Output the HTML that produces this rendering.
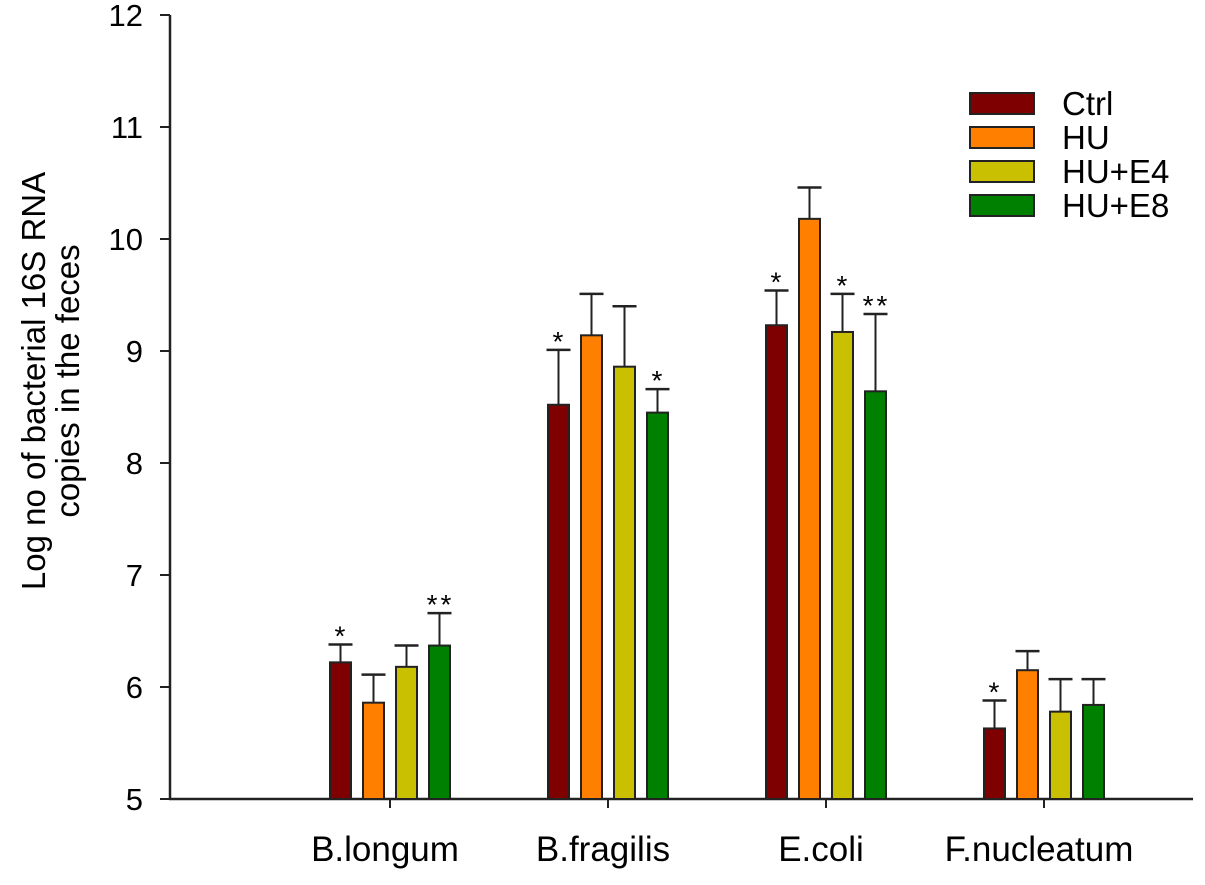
<!DOCTYPE html>
<html><head><meta charset="utf-8"><style>
body{margin:0;background:#fff;}
svg text{font-family:"Liberation Sans",Arial,sans-serif;fill:#000;}
</style></head><body>
<svg id="chart" width="1205" height="880" xmlns="http://www.w3.org/2000/svg"></svg>
<script>
const categories=["B.longum","B.fragilis","E.coli","F.nucleatum"];
const seriesNames=["Ctrl","HU","HU+E4","HU+E8"];
const seriesColors=["#7f0000","#ff8000","#c8c000","#008000"];
const ctrlVals=[6.22,8.52,9.23,5.63];
const huVals=[5.86,9.14,10.18,6.15];
const e4Vals=[6.18,8.86,9.17,5.78];
const e8Vals=[6.37,8.45,8.64,5.84];
const ctrlErr=[0.16,0.49,0.31,0.25];
const huErr=[0.25,0.37,0.28,0.17];
const e4Err=[0.19,0.54,0.34,0.29];
const e8Err=[0.29,0.21,0.69,0.23];
const ctrlStars=["*","*","*","*"];
const huStars=["","","",""];
const e4Stars=["","","*",""];
const e8Stars=["**","*","**",""];
const yTicks=[5,6,7,8,9,10,11,12];

const svg=document.getElementById('chart');
const NS="http://www.w3.org/2000/svg";
function mk(t,a,txt){const e=document.createElementNS(NS,t);for(const k in a)e.setAttribute(k,a[k]);if(txt!==undefined)e.textContent=txt;svg.appendChild(e);return e;}
const y0=799,yUnit=112,yMin=5;
function yS(v){return y0-(v-yMin)*yUnit;}
const catX0=390,catStep=218,barPitch=33,barW=21;
function xS(i){return catX0+i*catStep;}

let e=mk('line',{x1:170,y1:15,x2:170,y2:800,stroke:'#222','stroke-width':2.5});


e=mk('line',{x1:169,y1:799,x2:1193,y2:799,stroke:'#222','stroke-width':2.5});


yTicks.forEach(v=>{
  const t=mk('line',{x1:160,y1:yS(v),x2:170,y2:yS(v),stroke:'#222','stroke-width':2});
  
  
  const l=mk('text',{x:143,y:yS(v)+11,'text-anchor':'end','font-size':31},String(v));
  
  
});
const yt=mk('text',{transform:'translate(45,381) rotate(-90)','text-anchor':'middle','font-size':33},'Log no of bacterial 16S RNA');


const yt2=mk('text',{transform:'translate(79,381) rotate(-90)','text-anchor':'middle','font-size':33},'copies in the feces');



const vals=[ctrlVals,huVals,e4Vals,e8Vals];
const errs=[ctrlErr,huErr,e4Err,e8Err];
const stars=[ctrlStars,huStars,e4Stars,e8Stars];
categories.forEach((c,i)=>{
  const cx=xS(i);
  const t=mk('line',{x1:cx,y1:799,x2:cx,y2:808,stroke:'#222','stroke-width':2});
  
  
  const l=mk('text',{x:cx-5,y:861,'text-anchor':'middle','font-size':35},c);
  
  
  for(let s=0;s<4;s++){
    const bx=cx+(s-1.5)*barPitch;
    const v=vals[s][i],top=yS(v),et=yS(v+errs[s][i]);
    const eb=mk('line',{x1:bx,y1:top,x2:bx,y2:et,stroke:'#222','stroke-width':2});
    
    
    const ec=mk('line',{x1:bx-12,y1:et,x2:bx+12,y2:et,stroke:'#222','stroke-width':2.5});
    
    
    const r=mk('rect',{x:bx-barW/2,y:top,width:barW,height:y0-top,fill:seriesColors[s],stroke:'#222','stroke-width':2});
    
    
    if(stars[s][i]){
      const st=mk('text',{x:bx+1,y:et+1,'text-anchor':'middle','font-size':28,'letter-spacing':3},stars[s][i]);
      
      
    }
  }
});
seriesNames.forEach((n,s)=>{
  const y=93+s*34;
  const r=mk('rect',{x:970,y:y,width:64,height:21,fill:seriesColors[s],stroke:'#222','stroke-width':2});
  
  
  const t=mk('text',{x:1062,y:y+22,'font-size':33},n);
  
  
});
</script>
</body></html>
